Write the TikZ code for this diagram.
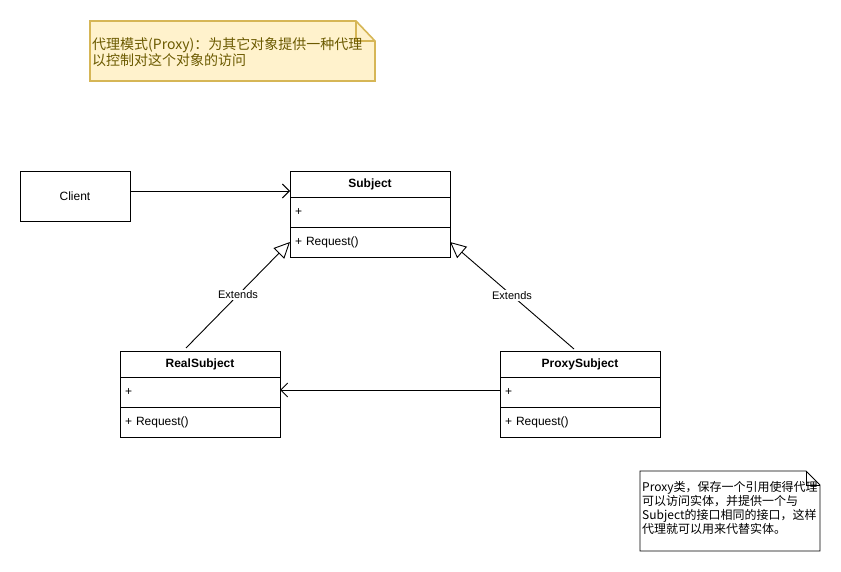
\documentclass[tikz,border=0pt]{standalone}
\usepackage{fontspec}
\setmainfont{Liberation Sans}
\newfontfamily\cjk{Noto Sans CJK SC}
\usetikzlibrary{positioning}
\usetikzlibrary{calc}
\usetikzlibrary{arrows.meta}
\definecolor{notefill}{HTML}{FFF2CC}
\definecolor{noteline}{HTML}{D6B656}
\definecolor{notetext}{HTML}{6B5A00}
\tikzstyle{classhead}=[draw,line width=0.9pt,outer sep=0pt,minimum width=160pt,minimum height=26pt,inner sep=0pt,font=\fontsize{12}{14}\selectfont\bfseries]
\tikzstyle{classrow}=[draw,line width=0.9pt,outer sep=0pt,minimum height=30pt,text width=150pt,inner xsep=5pt,inner ysep=0pt,align=left,font=\fontsize{12}{14}\selectfont]
\tikzstyle{plainbox}=[draw,line width=0.9pt,minimum width=110pt,minimum height=50pt,font=\fontsize{12}{14}\selectfont]
\tikzstyle{assoc} = [draw,line width=0.9pt,-{Straight Barb[length=7pt,width=14pt,line width=0.9pt]}]
\tikzstyle{extends} = [draw,line width=0.9pt,-{Triangle[open,length=16pt,width=15pt,line width=0.9pt]}]
\tikzstyle{edgelabel} = [fill=white,inner sep=1pt,font=\fontsize{11}{13}\selectfont]

\begin{document}
\begin{tikzpicture}[x=1pt,y=-1pt]

    \useasboundingbox (0,0) rectangle (841,572);

    % note on the pattern
    \path[fill=notefill,draw=noteline,line width=1.6pt] (90,21) -- (356,21) -- (375,41) -- (375,81) -- (90,81) -- cycle;
    \draw[noteline,line width=1.6pt] (356,21) -- (356,41) -- (375,41);
    \node[anchor=west,inner sep=0pt,align=left,text=notetext,font=\cjk\fontsize{14}{16}\selectfont] (intent) at (92,52)
        {代理模式(Proxy)：为其它对象提供一种代理\\以控制对这个对象的访问};

    \node[plainbox] (client) at (75,196) {Client};

    \foreach \name/\x/\y/\title in { subject/370/184/Subject, real/200/364/RealSubject, proxy/580/364/ProxySubject }
    {
        \node[classhead] (\name) at (\x,\y) {\title};
        \node[classrow, below=0pt of \name] (\name-attr) {+};
        \node[classrow, below=0pt of \name-attr] (\name-op) {+ Request()};
    }

    \path[assoc] ([yshift=5pt]client.east) -- ([yshift=5pt]client.east -| subject.west);
    \path[assoc] ([yshift=2pt]proxy-attr.west) -- ([yshift=2pt]real-attr.east);

    \path[extends] ([xshift=-14pt,yshift=3pt]real.north) -- node[edgelabel]{Extends} (subject-op.west);
    \path[extends] ([xshift=-6pt,yshift=2pt]proxy.north) -- node[edgelabel]{Extends} (subject-op.east);

    % note on the proxy
    \path[fill=white,draw=black,line width=0.9pt] (640,471) -- (806,471) -- (820,485) -- (820,551) -- (640,551) -- cycle;
    \draw[line width=0.9pt] (806,471) -- (806,485) -- (820,485);
    \node[anchor=west,inner sep=0pt,align=left,font=\cjk\fontsize{12}{14}\selectfont] (hint) at (642,508)
        {Proxy类，保存一个引用使得代理\\可以访问实体，并提供一个与\\Subject的接口相同的接口，这样\\代理就可以用来代替实体。};

\end{tikzpicture}
\end{document}
